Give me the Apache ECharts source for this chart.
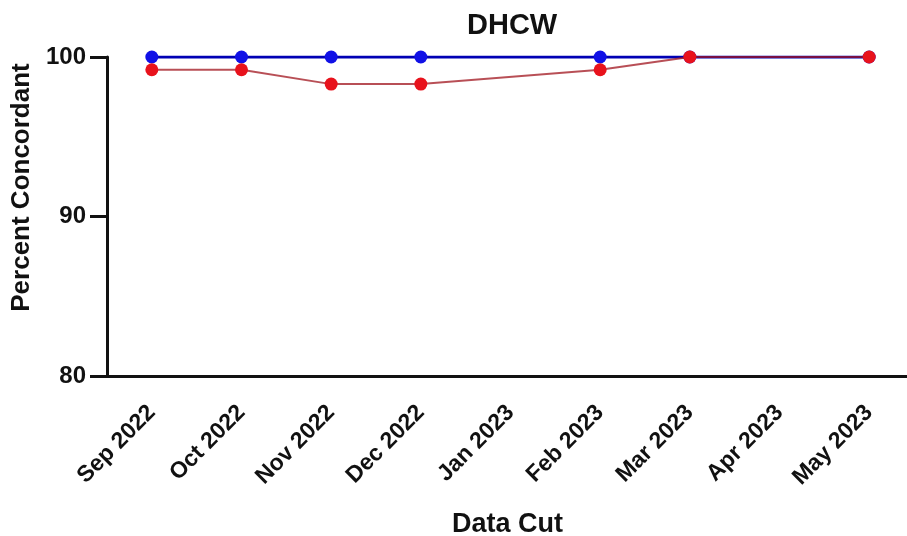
<!DOCTYPE html>
<html style="height: 100%">
<head>
    <title>DHCW</title>
    <meta charset="utf-8">
</head>
<body style="height: 100%; margin: 0; background: #fff">
    <div id="container" style="width: 907px; height: 536px"></div>
    <script type="text/javascript" src="https://cdn.jsdelivr.net/npm/echarts@6/dist/echarts.min.js"></script>
    <script type="text/javascript">
    // data (Jan and Apr have no points)
    var months = ['Sep 2022', 'Oct 2022', 'Nov 2022', 'Dec 2022', 'Jan 2023', 'Feb 2023', 'Mar 2023', 'Apr 2023', 'May 2023'];
    var blueVals = [100, 100, 100, 100, null, 100, 100, null, 100];
    var redVals = [99.2, 99.2, 98.3, 98.3, null, 99.2, 100, null, 100];
    var yTicks = [80, 90, 100];

    var font = '"Liberation Sans", Arial, Helvetica, sans-serif';
    var dom = document.getElementById('container');
    var myChart = echarts.init(dom, null, {renderer: 'canvas'});

    var option = {
        animation: false,
        title: {
            text: 'DHCW',
            left: 462,
            top: 6,
            textStyle: {fontFamily: font, fontWeight: 'bold', fontSize: 29, color: '#111'}
        },
        grid: {
            left: 107,
            top: 57,
            width: 807,
            height: 319,
            containLabel: false,
            outerBoundsMode: 'none'
        },
        xAxis: {
            type: 'category',
            data: months,
            boundaryGap: true,
            name: 'Data Cut',
            nameLocation: 'middle',
            nameGap: 135,
            nameTextStyle: {fontFamily: font, fontWeight: 'bold', fontSize: 27, color: '#111', padding: [0, 6, 0, 0]},
            axisLine: {lineStyle: {color: '#111', width: 3}},
            axisTick: {alignWithLabel: true, length: 17, lineStyle: {color: '#111', width: 3}},
            axisLabel: {
                rotate: 45,
                margin: 33,
                interval: 0,
                fontFamily: font, fontWeight: 'bold', fontSize: 23, color: '#111'
            },
            splitLine: {show: false}
        },
        yAxis: {
            type: 'value',
            min: yTicks[0],
            max: yTicks[yTicks.length - 1],
            interval: 10,
            name: 'Percent Concordant',
            nameLocation: 'middle',
            nameGap: 67,
            nameTextStyle: {fontFamily: font, fontWeight: 'bold', fontSize: 26, color: '#111', padding: [0, 0, 0, 58]},
            axisLine: {show: true, lineStyle: {color: '#111', width: 3}},
            axisTick: {show: true, length: 17, lineStyle: {color: '#111', width: 3}},
            axisLabel: {margin: 21, fontFamily: font, fontWeight: 'bold', fontSize: 24, color: '#111'},
            splitLine: {show: false}
        },
        series: [{
            type: 'line',
            data: blueVals,
            connectNulls: true,
            symbol: 'circle',
            symbolSize: 13,
            lineStyle: {color: '#0000b4', width: 3},
            itemStyle: {color: '#1010e6'},
            z: 2
        }, {
            type: 'line',
            data: redVals,
            connectNulls: true,
            symbol: 'circle',
            symbolSize: 13,
            lineStyle: {color: 'rgba(160,20,30,0.75)', width: 2},
            itemStyle: {color: '#e8121c'},
            z: 3
        }]
    };

    myChart.setOption(option);
    </script>
</body>
</html>
